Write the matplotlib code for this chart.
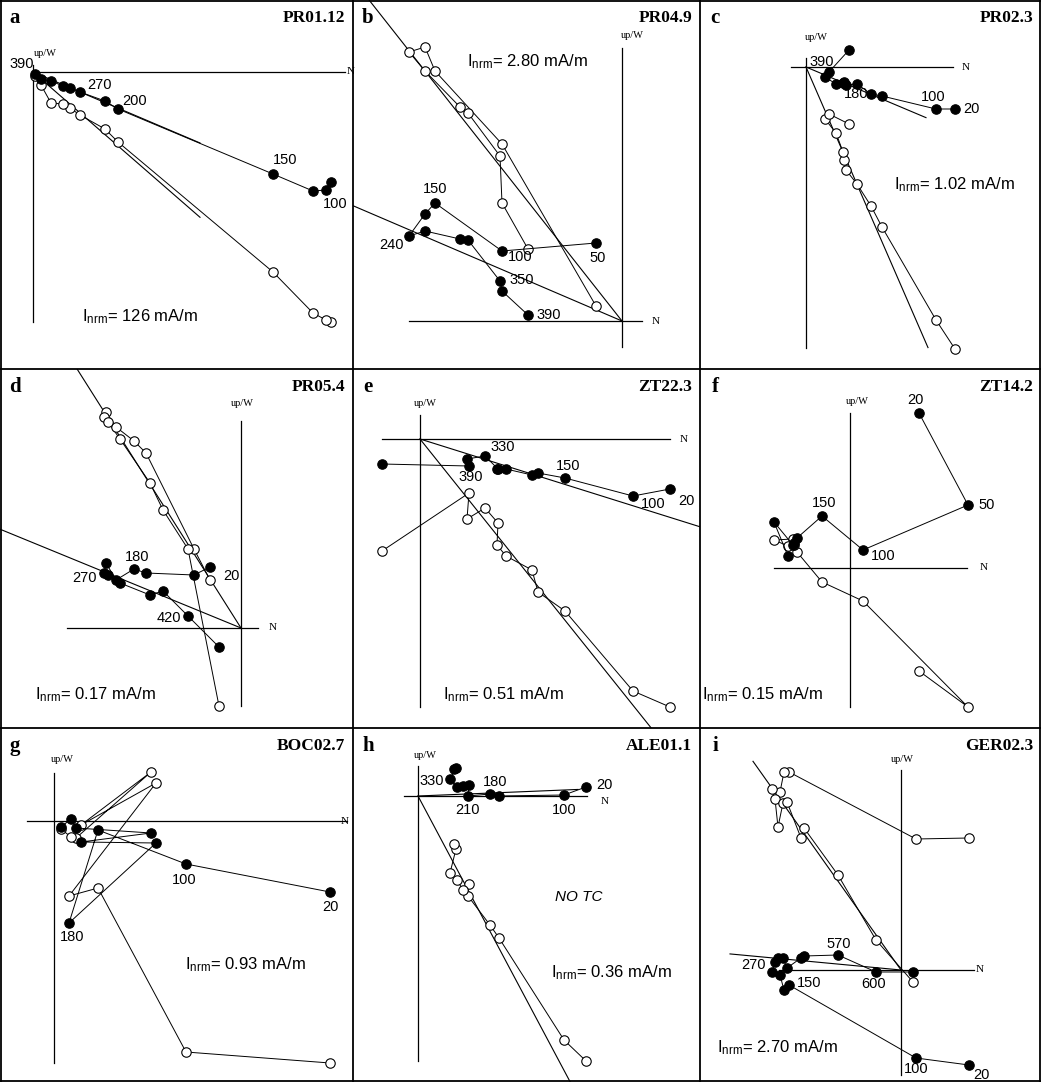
import matplotlib
matplotlib.use("Agg")
import matplotlib.pyplot as plt

plt.rcParams['mathtext.fontset'] = 'custom'
plt.rcParams['mathtext.rm'] = 'Liberation Sans'
plt.rcParams['mathtext.it'] = 'Liberation Sans:italic'

W, H = 1041, 1082
COLS = [0, 353, 700, 1041]
ROWS = [0, 369, 728, 1082]

# ---- demagnetisation data: N component (shared), W component (horizontal
# projection, filled), up component (vertical projection, open); step labels
a_north = [298, 293, 280, 240, 85, 72, 47, 37, 30, 18, 8, 2]
a_west = [-110, -118, -119, -102, -37, -29, -20, -16, -14, -9, -7, -2]
a_up = [-250, -248, -241, -200, -70, -57, -43, -36, -32, -31, -13, -4]
a_steps = ['', '100', '', '150', '200', '', '270', '', '', '', '', '390']

b_north = [-26, -120, -187, -197, -213, -197, -162, -154, -122, -120, -94]
b_west = [78, 70, 118, 107, 85, 90, 82, 81, 40, 30, 6]
b_up = [15, 177, 250, 274, 269, 250, 214, 208, 165, 118, 72]
b_steps = ['50', '100', '150', '', '240', '', '', '', '350', '', '390']

c_north = [149, 130, 76, 65, 51, 40, 38, 37, 30, 19, 23, 43]
c_west = [-42, -42, -29, -27, -17, -18, -15, -16, -17, -10, -5, 17]
c_up = [-282, -253, -160, -139, -117, -103, -93, -85, -66, -52, -47, -57]
c_steps = ['20', '100', '', '', '', '180', '', '', '', '', '390', '']

d_north = [-31, -47, -95, -107, -125, -135, -137, -133, -121, -91, -78, -53, -22]
d_west = [61, 53, 55, 59, 48, 65, 55, 53, 45, 33, 37, 12, -19]
d_up = [48, 79, 175, 187, 201, 216, 211, 206, 189, 145, 118, 79, -78]
d_steps = ['20', '', '', '180', '', '', '270', '', '', '', '', '420', '']

e_north = [250, 213, 145, 118, 112, 86, 77, 78, 65, 47, 49, -38]
e_west = [-50, -57, -39, -34, -36, -30, -30, -30, -17, -20, -27, -25]
e_up = [-268, -252, -172, -153, -131, -117, -106, -84, -69, -80, -54, -112]
e_steps = ['20', '100', '150', '', '', '', '', '', '330', '', '390', '']

f_north = [69, 118, 13, -28, -53, -56, -57, -76, -62]
f_west = [155, 63, 18, 52, 30, 25, 23, 46, 12]
f_up = [-103, -139, -33, -14, 16, 23, 29, 28, 22]
f_steps = ['20', '50', '100', '150', '', '', '', '', '']

g_north = [276, 132, 44, 15, 102, 27, 97, 22, 17, 7]
g_west = [-71, -43, -9, -102, -22, -21, -12, -7, 2, -6]
g_up = [-242, -231, -67, -75, 38, -4, 49, -17, -16, -8]
g_steps = ['20', '100', '', '180', '', '', '', '', '', '']

h_north = [168, 146, 81, 72, 50, 51, 45, 39, 32, 38, 36]
h_west = [9, 1, 0, 2, 0, 11, 10, 9, 17, 28, 27]
h_up = [-265, -244, -142, -129, -100, -88, -94, -84, -77, -53, -48]
h_steps = ['20', '100', '', '180', '210', '', '', '', '330', '', '']

i_north = [68, 15, -112, -117, -121, -129, -126, -123, -118, -114, -100, -97, -63, -25, 12]
i_west = [-95, -88, -15, -20, -5, -2, 8, 12, 12, 2, 12, 14, 15, -2, -2]
i_up = [132, 131, 198, 198, 178, 181, 171, 143, 167, 168, 132, 142, 95, 30, -12]
i_steps = ['20', '100', '150', '', '', '', '270', '', '', '', '', '', '570', '600', '']

sample_names = ['PR01.12', 'PR04.9', 'PR02.3', 'PR05.4', 'ZT22.3', 'ZT14.2',
                'BOC02.7', 'ALE01.1', 'GER02.3']
nrm_intensity = ['126', '2.80', '1.02', '0.17', '0.51', '0.15', '0.93', '0.36', '2.70']

# principal-component directions through the origin: (slope, N extent)
a_fits = [(-0.425, 167), (-0.87, 167)]
b_fits = [(-1.269, -400), (-0.4286, -400)]
c_fits = [(-0.422, 120), (-2.3, 122)]
d_fits = [(-1.58, -400), (-0.41, -400)]
e_fits = [(-0.3135, 400), (-1.25, 400)]
f_fits = []
g_fits = []
h_fits = [(0.041, 160), (-1.879, 400)]
i_fits = [(-1.41, -148), (-0.094, -171)]

# ---- layout (pixels)
layout = [
    dict(origin=(33, 72), h=(0, 312), v=(-250, 7), upw=(12, 18), nlab=(314, 0),
         inrm=(82, 317), off={1: (9, -14), 3: (12, 14), 4: (17, 8), 6: (19, 7), 11: (-13, 10)}),
    dict(origin=(622, 321), h=(-213, 20), v=(-26, 273), upw=(10, 286), nlab=(30, 0),
         inrm=(467, 62), off={0: (2, -15), 1: (18, -6), 2: (0, 14), 4: (-17, -9), 8: (22, 1), 10: (21, 0)}),
    dict(origin=(806, 67), h=(-15, 147), v=(-281, 9), upw=(10, 30), nlab=(156, 0),
         inrm=(894, 185), off={0: (16, 0), 1: (-3, 12), 5: (10, -9), 10: (-7, 10)}),
    dict(origin=(241, 628), h=(-174, 17), v=(-78, 207), upw=(1, 225), nlab=(28, 0),
         inrm=(35, 695), off={0: (21, -9), 3: (3, 12), 6: (-20, -5), 11: (-19, -2)}),
    dict(origin=(420, 439), h=(-38, 250), v=(-268, 24), upw=(5, 36), nlab=(260, 0),
         inrm=(443, 695), off={0: (16, -12), 1: (20, -8), 2: (3, 12), 8: (18, 9), 10: (2, -11)}),
    dict(origin=(850, 568), h=(-76, 117), v=(-139, 155), upw=(7, 166), nlab=(130, 0),
         inrm=(702, 695), off={0: (-4, 13), 1: (19, 0), 2: (20, -6), 3: (2, 13)}),
    dict(origin=(54, 821), h=(-27, 293), v=(-242, 48), upw=(8, 61), nlab=(287, 0),
         inrm=(185, 965), off={0: (0, -15), 1: (-2, -16), 3: (3, -14)}),
    dict(origin=(418, 796), h=(-14, 169), v=(-265, 30), upw=(7, 40), nlab=(183, -5),
         inrm=(551, 973), off={0: (18, 2), 1: (0, -15), 3: (5, 12), 4: (-1, -14), 8: (-18, -2)}),
    dict(origin=(901, 970), h=(-122, 73), v=(-105, 200), upw=(1, 210), nlab=(75, 0),
         inrm=(717, 1048), off={0: (12, -10), 1: (0, -11), 2: (20, 2), 6: (-21, -3), 12: (1, 11), 13: (-2, -12)}),
]

series = [
    (a_north, a_west, a_up, a_steps, a_fits),
    (b_north, b_west, b_up, b_steps, b_fits),
    (c_north, c_west, c_up, c_steps, c_fits),
    (d_north, d_west, d_up, d_steps, d_fits),
    (e_north, e_west, e_up, e_steps, e_fits),
    (f_north, f_west, f_up, f_steps, f_fits),
    (g_north, g_west, g_up, g_steps, g_fits),
    (h_north, h_west, h_up, h_steps, h_fits),
    (i_north, i_west, i_up, i_steps, i_fits),
]
letters = 'abcdefghi'

SANS = 'Liberation Sans'
SERIF = 'Liberation Serif'

fig = plt.figure(figsize=(W / 100, H / 100), dpi=100)
fig.patch.set_facecolor('white')


def fx(x):
    return x / W


def fy(y):
    return 1 - y / H


for k, ((north, west, up, steps, fits), lay) in enumerate(zip(series, layout)):
    r, c = divmod(k, 3)
    x0, x1 = COLS[c], COLS[c + 1]
    y0, y1 = ROWS[r], ROWS[r + 1]
    ox, oy = lay['origin']
    ax = fig.add_axes([fx(x0), fy(y1), (x1 - x0) / W, (y1 - y0) / H])
    ax.set_xlim(x0 - ox, x1 - ox)
    ax.set_ylim(oy - y1, oy - y0)
    ax.axis('off')

    # Zijderveld axes
    ax.plot(lay['h'], [0, 0], color='k', lw=0.9, zorder=1)
    ax.plot([0, 0], lay['v'], color='k', lw=0.9, zorder=1)
    ax.text(lay['upw'][0], lay['upw'][1], 'up/W', family=SERIF, fontsize=7.5,
            ha='center', va='center')
    ax.text(lay['nlab'][0], lay['nlab'][1], 'N', family=SERIF, fontsize=8,
            ha='left', va='center')

    # fitted components
    for slope, n_end in fits:
        ax.plot([0, n_end], [0, slope * n_end], color='k', lw=0.8, zorder=2)

    # vertical projection (open) and horizontal projection (filled)
    ax.plot(north, up, color='k', lw=0.7, marker='o', ms=6.8, mfc='white',
            mec='k', mew=0.8, zorder=3)
    ax.plot(north, west, color='k', lw=0.7, marker='o', ms=6.8, mfc='k',
            mec='k', mew=0.8, zorder=4)

    for idx, (dx, dy) in lay['off'].items():
        ax.text(north[idx] + dx, west[idx] + dy, steps[idx], family=SANS,
                fontsize=10.5, ha='center', va='center', zorder=5)

    fig.text(fx(x0 + 15), fy(y0 + 18), letters[k], family=SERIF,
             fontweight='bold', fontsize=15, ha='center', va='center')
    fig.text(fx(x1 - 8), fy(y0 + 18), sample_names[k], family=SERIF,
             fontweight='bold', fontsize=12.5, ha='right', va='center')
    ix, iy = lay['inrm']
    fig.text(fx(ix), fy(iy), r'I$_{\mathrm{nrm}}$= ' + nrm_intensity[k] + ' mA/m',
             family=SANS, fontsize=12, ha='left', va='center')

fig.text(fx(579), fy(897), 'NO TC', family=SANS, style='italic', fontsize=11,
         ha='center', va='center')

# panel frames
frame = fig.add_axes([0, 0, 1, 1], zorder=10)
frame.set_xlim(0, W)
frame.set_ylim(H, 0)
frame.axis('off')
frame.patch.set_alpha(0)
for xv in COLS:
    xv = min(max(xv, 1), W - 1)
    frame.plot([xv, xv], [0, H], color='k', lw=1.3)
for yv in ROWS:
    yv = min(max(yv, 1), H - 1)
    frame.plot([0, W], [yv, yv], color='k', lw=1.3)

fig.savefig('out.png', dpi=100, facecolor='white')
